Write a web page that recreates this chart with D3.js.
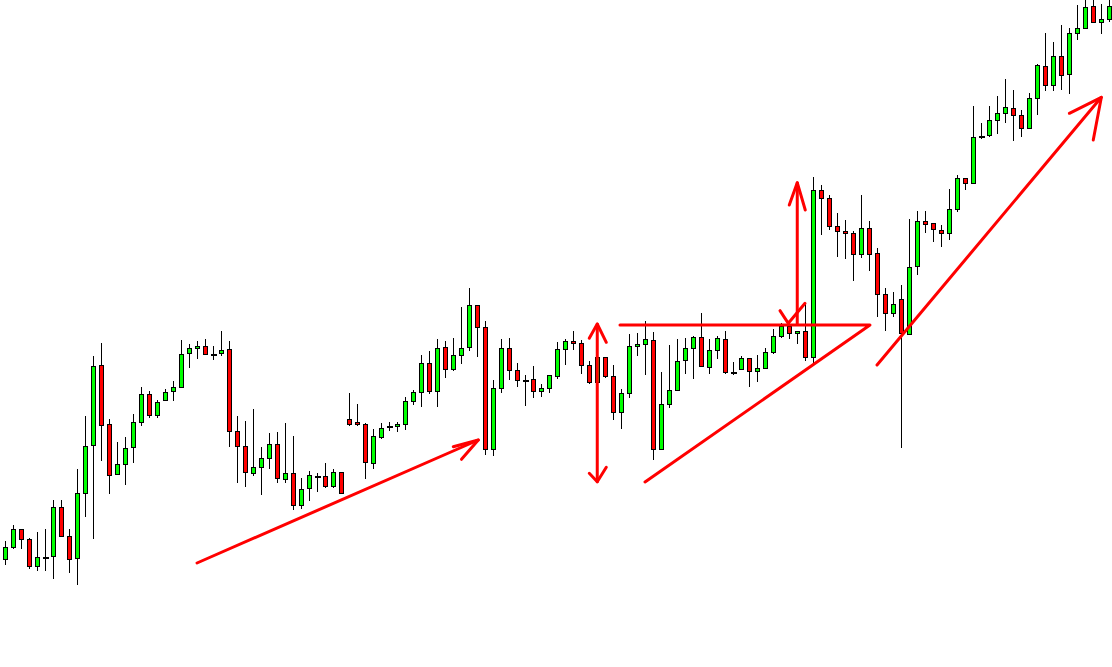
<!DOCTYPE html>
<html>
<head>
<meta charset="utf-8">
<script src="https://cdn.jsdelivr.net/npm/d3@7"></script>
<style>
html,body{margin:0;padding:0;background:#fff;}
svg{display:block;}
</style>
</head>
<body>
<svg id="chart" width="1112" height="667"></svg>
<script>
// OHLC series (price units)
const open  = [108,120,138,128,101,110,111,160,131,109,174,222,302,243,193,203,220,245,273,252,267,276,280,314,319,321,313,314,318,236,221,194,200,209,223,188,194,162,179,191,191,181,195,248,245,243,204,230,241,241,243,266,275,304,276,320,298,312,320,362,340,218,279,319,297,287,288,276,279,291,318,326,324,302,285,310,291,255,274,321,323,327,218,263,277,307,319,330,300,317,328,295,298,309,296,299,315,331,341,334,336,310,477,469,441,436,434,413,439,414,373,354,368,333,401,446,444,437,434,458,489,484,531,532,547,554,559,552,539,569,601,582,611,593,634,639,661,645,648];
const high  = [126,142,138,129,135,138,167,167,138,198,251,311,324,248,225,230,253,280,276,267,278,286,327,323,326,328,321,336,326,251,246,258,220,234,235,244,231,189,196,194,204,198,195,274,263,244,238,244,245,245,270,277,312,316,328,326,329,360,379,362,346,287,328,329,304,292,301,283,292,325,328,336,327,306,312,310,302,278,333,334,346,335,295,322,328,329,331,354,328,331,336,305,311,309,312,319,338,344,344,336,364,490,482,472,454,447,436,472,446,419,379,375,382,448,456,456,444,442,478,492,489,561,544,561,571,588,577,557,574,603,634,625,642,639,662,670,670,663,670];
const low   = [102,118,118,98,96,96,88,131,94,82,150,128,206,173,192,182,204,241,249,249,266,266,280,299,308,312,307,311,220,184,180,191,172,198,184,184,157,158,166,175,179,179,173,241,241,188,198,228,236,235,237,262,260,273,260,289,296,303,316,310,212,211,274,287,280,261,269,270,274,288,302,317,293,283,280,289,247,238,269,311,292,207,218,259,277,293,288,300,293,308,293,292,298,280,285,298,313,329,328,323,306,304,432,437,410,408,386,409,396,350,336,350,219,333,392,434,425,420,427,455,477,483,528,530,533,544,526,530,538,552,576,576,577,573,627,639,645,633,645];
const close = [120,138,128,101,110,110,160,131,108,174,221,301,242,192,203,219,245,273,252,265,275,280,313,319,321,313,313,317,236,221,195,200,209,223,189,194,162,178,192,191,181,195,174,243,243,205,231,239,241,243,266,275,304,276,319,298,312,319,362,340,218,279,319,297,287,287,276,279,292,318,326,324,302,285,310,291,255,274,321,323,328,218,263,277,306,319,330,301,317,329,295,295,309,296,299,315,331,341,334,336,310,477,469,441,436,434,413,439,413,373,354,363,334,400,446,443,438,434,458,489,484,530,531,547,554,560,552,539,569,602,582,611,592,634,639,660,645,648,661];

// Hand-drawn annotations (x = candle index, y = price)
const arrowUpTrend   = [[23.94,104],[59.1,227]];
const arrowUpHead    = [[55.97,220.3],[59.1,227],[57.0,207.7]];
const rangeShaft     = [[73.97,343],[73.97,185.3]];
const rangeTopHead   = [[72.97,328.7],[73.97,343],[75.1,324.7]];
const rangeBotHead   = [[72.97,193.7],[73.97,185.3],[75.1,199.7]];
const triangleLines  = [[76.81,342],[108.06,342],[79.94,185]];
const breakoutShaft  = [[98.97,343],[98.97,484.3]];
const breakoutHead   = [[97.97,462],[98.97,484.3],[99.97,457]];
const breakoutV      = [[96.81,356.3],[97.85,343.7],[99.94,363.7]];
const finalTrend     = [[108.94,302],[136.98,569.7]];
const finalHead      = [[132.98,553.7],[136.98,569.7],[135.97,527]];

const W = 1112, H = 667;
const svg = d3.select("#chart");
const x = d3.scaleLinear().domain([0, open.length - 1]).range([5.5, 5.5 + 8 * (open.length - 1)]);
const y = d3.scaleLinear().domain([0, 667]).range([667, 0]);

const candles = open.map((o, i) => ({i, o, h: high[i], l: low[i], c: close[i]}));

const g = svg.append("g");
// wicks
g.selectAll("line.wick").data(candles).enter().append("line")
  .attr("class", "wick")
  .attr("x1", d => x(d.i)).attr("x2", d => x(d.i))
  .attr("y1", d => Math.round(y(d.h))).attr("y2", d => Math.round(y(d.l)))
  .attr("stroke", "#000").attr("stroke-width", 1)
  .attr("shape-rendering", "crispEdges");

// bodies
g.selectAll("rect.body").data(candles.filter(d => d.o !== d.c)).enter().append("rect")
  .attr("class", "body")
  .attr("x", d => x(d.i) - 2)
  .attr("y", d => Math.round(y(Math.max(d.o, d.c))) + 0.5)
  .attr("width", 4)
  .attr("height", d => Math.max(1, Math.abs(Math.round(y(d.o)) - Math.round(y(d.c)))))
  .attr("fill", d => d.c > d.o ? "#00ff00" : "#ff0000")
  .attr("stroke", "#000").attr("stroke-width", 1)
  .attr("shape-rendering", "crispEdges");

// dojis
g.selectAll("line.doji").data(candles.filter(d => d.o === d.c)).enter().append("line")
  .attr("class", "doji")
  .attr("x1", d => x(d.i) - 3).attr("x2", d => x(d.i) + 3)
  .attr("y1", d => Math.round(y(d.o)) + 0.5).attr("y2", d => Math.round(y(d.o)) + 0.5)
  .attr("stroke", "#000").attr("stroke-width", 2)
  .attr("shape-rendering", "crispEdges");

// annotations
const line = d3.line().x(p => x(p[0])).y(p => y(p[1]));
const ann = svg.append("g").attr("fill", "none").attr("stroke", "#ff0000")
  .attr("stroke-width", 3).attr("stroke-linecap", "round").attr("stroke-linejoin", "round");
[arrowUpTrend, arrowUpHead, rangeShaft, rangeTopHead, rangeBotHead, triangleLines,
 breakoutShaft, breakoutHead, breakoutV, finalTrend, finalHead].forEach(pts => {
  ann.append("path").attr("d", line(pts));
});
</script>
</body>
</html>
